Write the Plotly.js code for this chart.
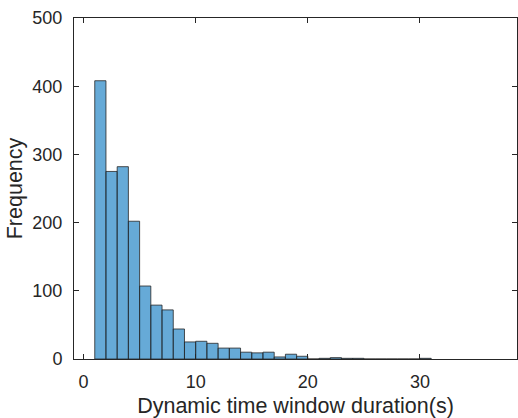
<!DOCTYPE html>
<html>
<head>
<meta charset="utf-8">
<script src="https://cdn.plot.ly/plotly-3.0.1.min.js"></script>
<style>html,body{margin:0;padding:0;background:#fff;}#chart{width:518px;height:418px;}</style>
</head>
<body>
<div id="chart"></div>
<script>
// Histogram bins: left edges (s), bin width 1 s
const binStarts = [1,2,3,4,5,6,7,8,9,10,11,12,13,14,15,16,17,18,19,20,21,22,23,24,25,26,27,28,29,30];
const counts    = [408,275,282,202,107,79,72,44,25,26,23,16,16,10,9,10,3,7,4,0,1,2,1,1,0,0,0,0,0,1];
const xTicks = [0,10,20,30];
const yTicks = [0,100,200,300,400,500];
const binWidth = 1;

const centers = binStarts.map(s => s + binWidth / 2);

const tickFont = {family: 'Liberation Sans, Arial, sans-serif', size: 18, color: '#262626'};
const titleFont = {family: 'Liberation Sans, Arial, sans-serif', size: 21.5, color: '#262626'};

const trace = {
  type: 'bar',
  x: centers,
  y: counts,
  width: binWidth,
  marker: {color: 'rgba(0,114,189,0.6)', line: {color: '#262626', width: 0.8}},
  hoverinfo: 'x+y'
};

const layout = {
  width: 518, height: 418,
  margin: {l: 74, r: 1, t: 18, b: 59},
  paper_bgcolor: '#ffffff', plot_bgcolor: '#ffffff',
  showlegend: false,
  bargap: 0,
  xaxis: {
    range: [-0.85, 38.65],
    tickvals: xTicks, ticktext: xTicks.map(String),
    ticks: 'inside', ticklen: 5, tickcolor: '#262626', tickwidth: 1,
    showline: true, linecolor: '#262626', linewidth: 1, mirror: 'ticks',
    showgrid: false, zeroline: false,
    tickfont: tickFont,
    ticklabelstandoff: 6,
    title: {text: 'Dynamic time window duration(s)', font: titleFont, standoff: 8}
  },
  yaxis: {
    range: [0, 500],
    tickvals: yTicks, ticktext: yTicks.map(String),
    ticks: 'inside', ticklen: 5, tickcolor: '#262626', tickwidth: 1,
    showline: true, linecolor: '#262626', linewidth: 1, mirror: 'ticks',
    showgrid: false, zeroline: false,
    tickfont: tickFont,
    ticklabelstandoff: 7,
    title: {text: 'Frequency', font: titleFont, standoff: 3}
  }
};

Plotly.newPlot('chart', [trace], layout, {displayModeBar: false, staticPlot: true});
</script>
</body>
</html>
